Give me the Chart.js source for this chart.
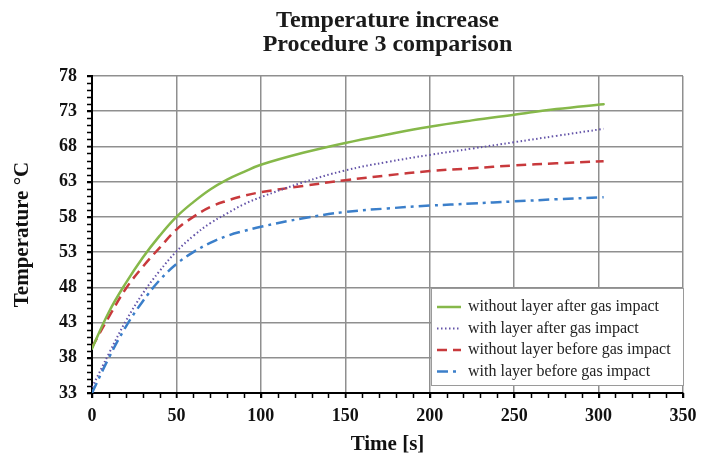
<!DOCTYPE html>
<html>
<head>
<meta charset="utf-8">
<script src="https://cdn.jsdelivr.net/npm/chart.js@4.4.1/dist/chart.umd.min.js"></script>
<style>
  html, body { margin: 0; padding: 0; background: #fff; }
</style>
</head>
<body>
<canvas id="grafico" width="708" height="457"></canvas>
<script>
// data
var tempo = [0, 10, 20, 30, 40, 50, 60, 70, 80, 90, 100, 125, 150, 175, 200, 225, 250, 275, 303];
var semCamadaDepois = [39.3, 44.5, 48.6, 52.2, 55.3, 58.0, 60.1, 61.9, 63.3, 64.4, 65.4, 67.1, 68.5, 69.7, 70.8, 71.7, 72.5, 73.3, 74.0];
var comCamadaDepois = [33.8, 38.6, 43.2, 47.1, 50.3, 53.1, 55.3, 57.1, 58.5, 59.8, 60.8, 62.9, 64.6, 65.8, 66.8, 67.7, 68.6, 69.5, 70.5];
var semCamadaAntes = [39.5, 43.8, 47.8, 50.9, 53.6, 56.2, 58.0, 59.4, 60.3, 61.0, 61.5, 62.4, 63.2, 63.9, 64.5, 64.9, 65.3, 65.6, 65.9];
var comCamadaAntes = [33.0, 38.0, 42.4, 46.0, 49.0, 51.3, 53.0, 54.3, 55.3, 56.0, 56.6, 57.8, 58.7, 59.2, 59.6, 59.9, 60.2, 60.5, 60.8];
var nomes = ["without layer after gas impact", "with layer after gas impact", "without layer before gas impact", "with layer before gas impact"];
var xTicks = [0, 50, 100, 150, 200, 250, 300, 350];
var yTicks = [33, 38, 43, 48, 53, 58, 63, 68, 73, 78];
var titulo = ["Temperature increase", "Procedure 3 comparison"];

var serif = "'Liberation Serif', 'Times New Roman', serif";

function pontos(valores) {
    return tempo.map(function (t, i) { return { x: t, y: valores[i] }; });
}

function serie(label, valores, cor, dash, largura) {
    return {
        label: label,
        data: pontos(valores),
        borderColor: cor,
        backgroundColor: cor,
        borderDash: dash,
        borderWidth: largura,
        borderCapStyle: dash.length ? "butt" : "round",
        pointRadius: 0,
        tension: 0.4,
        fill: false
    };
}

// title centred over the plot area
var pluginTitulo = {
    id: "tituloPlot",
    afterDraw: function (chart) {
        var ctx = chart.ctx, a = chart.chartArea;
        var cx = (a.left + a.right) / 2;
        ctx.save();
        ctx.fillStyle = "#1a1a1a";
        ctx.font = "bold 24px " + serif;
        ctx.textAlign = "center";
        ctx.textBaseline = "middle";
        ctx.fillText(titulo[0], cx, 21);
        ctx.fillText(titulo[1], cx, 45);
        ctx.restore();
    }
};

// small ticks and legend inside the plot
var pluginExtras = {
    id: "extras",
    afterDraw: function (chart) {
        var ctx = chart.ctx, a = chart.chartArea;
        var sx = chart.scales.x, sy = chart.scales.y;
        ctx.save();
        ctx.strokeStyle = "#000";
        ctx.lineWidth = 1.5;
        ctx.beginPath();
        for (var v = 0; v <= 350; v += 10) {
            var px = Math.round(sx.getPixelForValue(v)) + 0.5;
            ctx.moveTo(px, a.bottom);
            ctx.lineTo(px, a.bottom + 5);
        }
        for (var w = 33; w <= 78; w += 1) {
            var py = Math.round(sy.getPixelForValue(w)) + 0.5;
            ctx.moveTo(a.left - 5, py);
            ctx.lineTo(a.left, py);
        }
        ctx.stroke();

        // legend box
        var bx = 431, by = 288, bw = a.right - 431, bh = 97;
        ctx.fillStyle = "#fff";
        ctx.fillRect(bx, by, bw, bh);
        ctx.strokeStyle = "#9a9a9a";
        ctx.lineWidth = 1;
        ctx.strokeRect(bx + 0.5, by + 0.5, bw, bh);
        ctx.font = "16px " + serif;
        ctx.textBaseline = "middle";
        ctx.textAlign = "left";
        chart.data.datasets.forEach(function (ds, i) {
            var ly = by + 19 + i * 21.5;
            ctx.beginPath();
            ctx.strokeStyle = ds.borderColor;
            ctx.lineWidth = ds.borderWidth;
            ctx.setLineDash(ds.borderDash);
            ctx.moveTo(437, ly);
            ctx.lineTo(461, ly);
            ctx.stroke();
            ctx.setLineDash([]);
            ctx.fillStyle = "#222";
            ctx.fillText(ds.label, 468, ly);
        });
        ctx.restore();
    }
};

new Chart(document.getElementById("grafico"), {
    type: "line",
    data: {
        datasets: [
            serie(nomes[0], semCamadaDepois, "#86b84a", [], 2.5),
            serie(nomes[1], comCamadaDepois, "#6454a8", [1.5, 2.5], 2),
            serie(nomes[2], semCamadaAntes, "#c8393c", [10, 6], 2.5),
            serie(nomes[3], comCamadaAntes, "#3b7fca", [11, 5, 3, 5], 2.5)
        ]
    },
    options: {
        responsive: false,
        animation: false,
        layout: { padding: { top: 76, left: 8, right: 25, bottom: 0 } },
        plugins: {
            legend: { display: false },
            title: { display: false },
            tooltip: { enabled: false }
        },
        scales: {
            x: {
                type: "linear",
                min: 0,
                max: 350,
                afterBuildTicks: function (s) { s.ticks = xTicks.map(function (v) { return { value: v }; }); },
                afterFit: function (s) { s.height = 64; },
                grid: { color: "#8f8f8f", lineWidth: 1.5, tickLength: 5, tickColor: "#000" },
                border: { color: "#000", width: 2 },
                ticks: { color: "#111", font: { family: serif, size: 18, weight: "bold" }, padding: 8, maxRotation: 0 },
                title: { display: true, text: "Time [s]", color: "#111", font: { family: serif, size: 21, weight: "bold" }, padding: { top: 2, bottom: 0 } }
            },
            y: {
                min: 33,
                max: 78,
                afterBuildTicks: function (s) { s.ticks = yTicks.map(function (v) { return { value: v }; }); },
                afterFit: function (s) { s.width = 84; },
                grid: { color: "#8f8f8f", lineWidth: 1.5, tickLength: 5, tickColor: "#000" },
                border: { color: "#000", width: 2 },
                ticks: { color: "#111", font: { family: serif, size: 18, weight: "bold" }, padding: 10 },
                title: { display: true, text: "Temperature °C", color: "#111", font: { family: serif, size: 21, weight: "bold" }, padding: { top: 2, bottom: 0 } }
            }
        }
    },
    plugins: [pluginTitulo, pluginExtras]
});
</script>
</body>
</html>
